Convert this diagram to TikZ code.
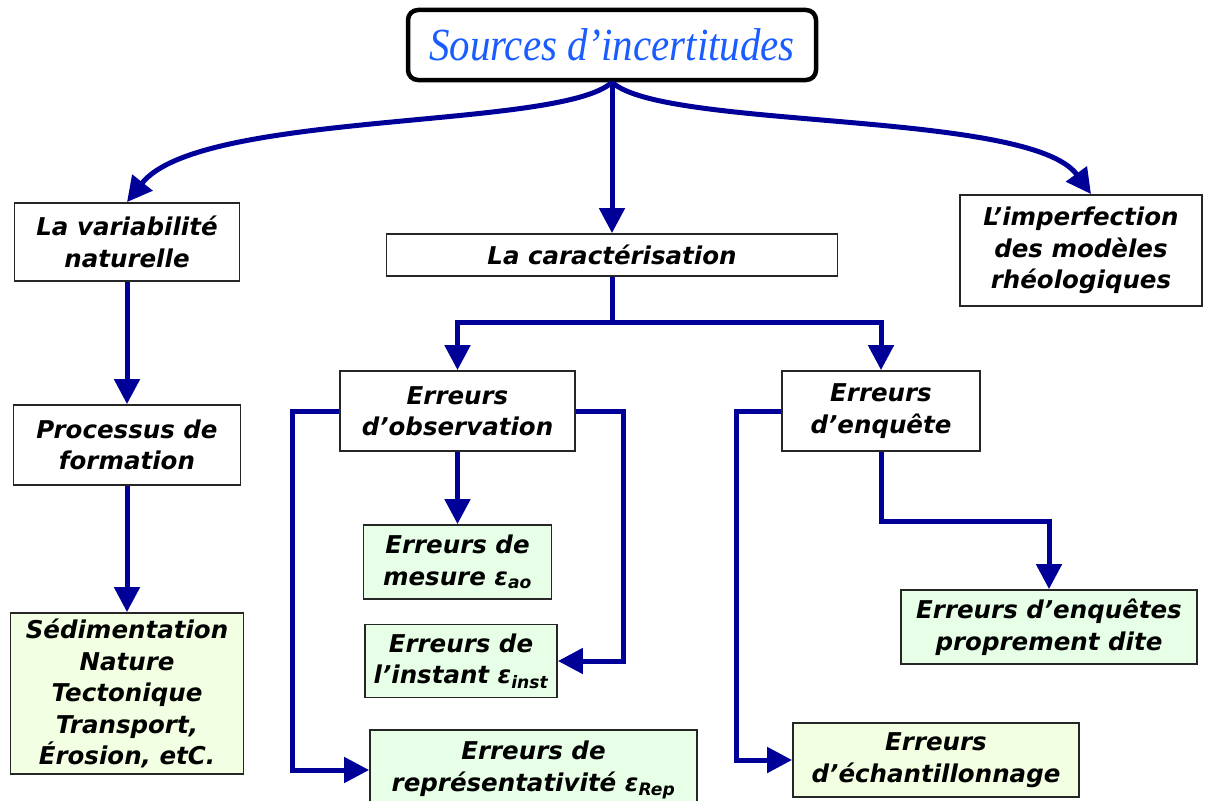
\documentclass[tikz,border=0pt]{standalone}
\usepackage{fontspec}
\setsansfont{DejaVu Sans}
\newfontfamily\titlefont{Liberation Serif}
\usetikzlibrary{arrows.meta}
\definecolor{navy}{HTML}{000099}
\definecolor{titleblue}{HTML}{1A5CFF}
\definecolor{fillA}{HTML}{F2FFE2}
\definecolor{fillB}{HTML}{E6FFE6}
\newcommand{\boxfont}{\sffamily\bfseries\itshape\fontsize{24.5}{31.5}\selectfont}
\begin{document}
\begin{tikzpicture}[x=1pt,y=-1pt,
  box/.style={draw=black!85, line width=1.8pt, align=center, font=\boxfont, inner sep=0pt},
  arr/.style={draw=navy, line width=5pt, -{Triangle[width=25pt,length=25pt]}},
  ln/.style={draw=navy, line width=5pt}]
\useasboundingbox (0,0) rectangle (1217,800);

\node[draw=black, line width=4.5pt, rounded corners=10pt, minimum width=408pt, minimum height=70pt, inner sep=0pt,
      font=\titlefont\itshape\fontsize{46}{50}\selectfont, text=titleblue] (title) at (612,45)
      {\scalebox{0.89}[1.0]{Sources d’incertitudes}};

\node[box, minimum width=225pt, minimum height=78pt] (vari) at (127,242) {La variabilité\\naturelle};
\node[box, minimum width=451pt, minimum height=42pt] (cara) at (612,255) {La caractérisation};
\node[box, minimum width=242pt, minimum height=111pt] (imp) at (1081,250.5) {L’imperfection\\des modèles\\rhéologiques};
\node[box, minimum width=227pt, minimum height=80pt] (proc) at (127,445) {Processus de\\formation};
\node[box, fill=fillA, minimum width=233pt, minimum height=161pt] (sed) at (127,693.5)
      {Sédimentation\\Nature\\Tectonique\\Transport,\\Érosion, etC.};
\node[box, minimum width=235pt, minimum height=80pt] (obs) at (457.5,411) {Erreurs\\d’observation};
\node[box, minimum width=198pt, minimum height=80pt] (enq) at (881,411) {Erreurs\\d’enquête};
\node[box, fill=fillB, minimum width=188pt, minimum height=74pt] (mes) at (457.5,562) {Erreurs de\\mesure ε\textsubscript{ao}};
\node[box, fill=fillB, minimum width=192pt, minimum height=73pt] (inst) at (461,661) {Erreurs de\\l’instant ε\textsubscript{inst}};
\node[box, fill=fillB, minimum width=327pt, minimum height=80pt] (rep) at (533.5,770) {Erreurs de\\représentativité ε\textsubscript{Rep}};
\node[box, fill=fillB, minimum width=296pt, minimum height=74pt] (prop) at (1049,627) {Erreurs d’enquêtes\\proprement dite};
\node[box, fill=fillA, minimum width=286pt, minimum height=74pt] (ech) at (936,760) {Erreurs\\d’échantillonnage};

% top curves
\draw[arr] (title.south) .. controls (560,130) and (200,110) .. (vari.north);
\draw[arr] (title.south) .. controls (664,130) and (1030,110) .. ([xshift=10pt]imp.north);
\draw[arr] (title.south) -- (cara.north);

% left column
\draw[arr] (vari.south) -- (proc.north);
\draw[arr] (proc.south) -- (sed.north);

% caracterisation tree
\coordinate (j) at (612,322);
\draw[arr] (cara.south) -- (j) -| (obs.north);
\draw[arr] (j) -| (enq.north);

% observation
\draw[arr] (obs.south) -- (mes.north);
\draw[arr] (obs.west) -- ++(-47,0) |- (rep.west);
\draw[arr] (obs.east) -- ++(48,0) |- (inst.east);

% enquete
\draw[arr] (enq.west) -- ++(-45,0) |- (ech.west);
\draw[arr] (enq.south) -- ++(0,70) -| (prop.north);
\end{tikzpicture}
\end{document}
